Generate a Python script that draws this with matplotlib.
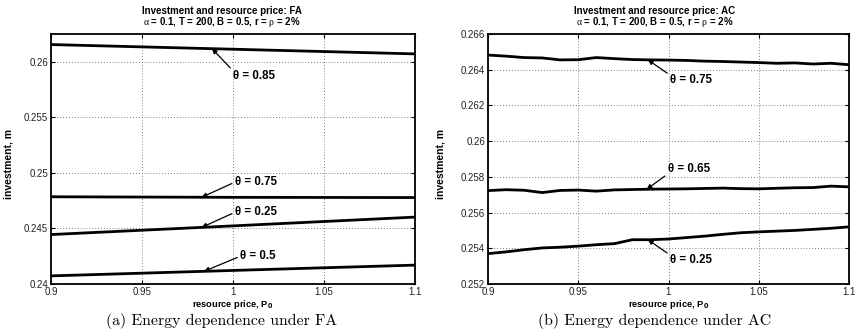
import numpy as np
import matplotlib
matplotlib.use("Agg")
import matplotlib.pyplot as plt

# resource price grid
price_fa = [0.9, 1.0, 1.1]
price_ac = [0.90, 0.91, 0.92, 0.93, 0.94, 0.95, 0.96, 0.97, 0.98, 0.99, 1.00,
            1.01, 1.02, 1.03, 1.04, 1.05, 1.06, 1.07, 1.08, 1.09, 1.10]

# investment under FA, one series per theta
fa_085 = [0.26155, 0.26113, 0.26071]
fa_075 = [0.24785, 0.24780, 0.24778]
fa_025 = [0.24445, 0.24523, 0.24602]
fa_050 = [0.24073, 0.24122, 0.24170]

# investment under AC
ac_075 = [0.26482, 0.26476, 0.26468, 0.26466, 0.26455, 0.26456, 0.26468, 0.26462,
          0.26457, 0.26455, 0.26454, 0.26452, 0.26448, 0.26446, 0.26443, 0.26440,
          0.26436, 0.26438, 0.26432, 0.26436, 0.26428]
ac_065 = [0.25723, 0.25728, 0.25725, 0.25712, 0.25724, 0.25726, 0.25720, 0.25727,
          0.25729, 0.25731, 0.25732, 0.25733, 0.25735, 0.25737, 0.25734, 0.25733,
          0.25736, 0.25739, 0.25740, 0.25748, 0.25744]
ac_025 = [0.25370, 0.25380, 0.25392, 0.25402, 0.25406, 0.25412, 0.25420, 0.25426,
          0.25448, 0.25448, 0.25452, 0.25460, 0.25468, 0.25478, 0.25487, 0.25492,
          0.25496, 0.25500, 0.25506, 0.25512, 0.25520]

params = r"$\alpha$ = 0.1, T = 200, B = 0.5, r = $\rho$ = 2%"
plt.rcParams["font.family"] = ["Liberation Sans", "DejaVu Sans"]
plt.rcParams["mathtext.fontset"] = "custom"
plt.rcParams["mathtext.rm"] = "Liberation Serif"
plt.rcParams["mathtext.it"] = "Liberation Serif"

fig = plt.figure(figsize=(8.57, 3.36), dpi=100)
ax1 = fig.add_axes([51 / 857, 52 / 336, 364 / 857, 250 / 336])
ax2 = fig.add_axes([488 / 857, 52 / 336, 361 / 857, 250 / 336])


def style(ax, yticks, ylim, ylab_x):
    ax.set_xlim(0.9, 1.1)
    ax.set_ylim(*ylim)
    ax.set_xticks([0.9, 0.95, 1.0, 1.05, 1.1])
    ax.set_xticklabels(["0.9", "0.95", "1", "1.05", "1.1"])
    ax.set_yticks(yticks)
    ax.set_yticklabels([f"{t:g}" for t in yticks])
    ax.tick_params(direction="in", top=True, right=True, length=3, width=0.8,
                   labelsize=7, pad=2, labelcolor="#222222")
    ax.grid(True, linestyle=(0, (1, 2.5)), color="#555555", linewidth=0.6)
    for s in ax.spines.values():
        s.set_linewidth(1.3)
    ax.set_xlabel(r"resource price, P$_{\mathbf{0}}$", fontsize=6.7,
                  fontweight="bold", labelpad=1)
    ax.set_ylabel("investment, m", fontsize=7.5, fontweight="bold")
    ax.yaxis.set_label_coords(ylab_x, 0.48)


def label(ax, xs, ys, xh, text, off, rel):
    yh = np.interp(xh, xs, ys)
    ax.annotate(text, xy=(xh, yh), xytext=off, textcoords="offset pixels",
                ha="left", va="center", fontsize=8.3, fontweight="bold",
                arrowprops=dict(arrowstyle="-|>", color="black", lw=0.9,
                                mutation_scale=7, relpos=rel, shrinkA=0, shrinkB=0))


for ys in (fa_085, fa_075, fa_025, fa_050):
    ax1.plot(price_fa, ys, color="black", linewidth=2)
style(ax1, [0.24, 0.245, 0.25, 0.255, 0.26], (0.24, 0.2625), -37 / 364)
label(ax1, price_fa, fa_085, 0.9885, "θ = 0.85", (21, -27), (0, 0.9))
label(ax1, price_fa, fa_075, 0.9828, "θ = 0.75", (33, 15), (0, 0.5))
label(ax1, price_fa, fa_025, 0.9828, "θ = 0.25", (33, 15), (0, 0.5))
label(ax1, price_fa, fa_050, 0.9841, "θ = 0.5", (36, 15), (0, 0.5))

for ys in (ac_075, ac_065, ac_025):
    ax2.plot(price_ac, ys, color="black", linewidth=2)
style(ax2, [0.252, 0.254, 0.256, 0.258, 0.26, 0.262, 0.264, 0.266], (0.252, 0.266),
      -42 / 361)
label(ax2, price_ac, ac_075, 0.9886, "θ = 0.75", (22, -20), (0, 0.9))
label(ax2, price_ac, ac_065, 0.9879, "θ = 0.65", (21, 20), (0, 0.1))
label(ax2, price_ac, ac_025, 0.9886, "θ = 0.25", (22, -20), (0, 0.9))

# panel headings and captions
for xc, tag, cap in ((222, "FA", "(a) Energy dependence under FA"),
                     (655, "AC", "(b) Energy dependence under AC")):
    fig.text(xc / 857, 1 - 10.7 / 336, f"Investment and resource price: {tag}",
             ha="center", va="center", fontsize=7, fontweight="bold")
    fig.text(xc / 857, 1 - 21.7 / 336, params, ha="center", va="center",
             fontsize=7, fontweight="bold")
    fig.text(xc / 857, 1 - 321 / 336, cap, ha="center", va="center",
             fontsize=11.4, family="cmr10")

fig.savefig("out.png", dpi=100)
